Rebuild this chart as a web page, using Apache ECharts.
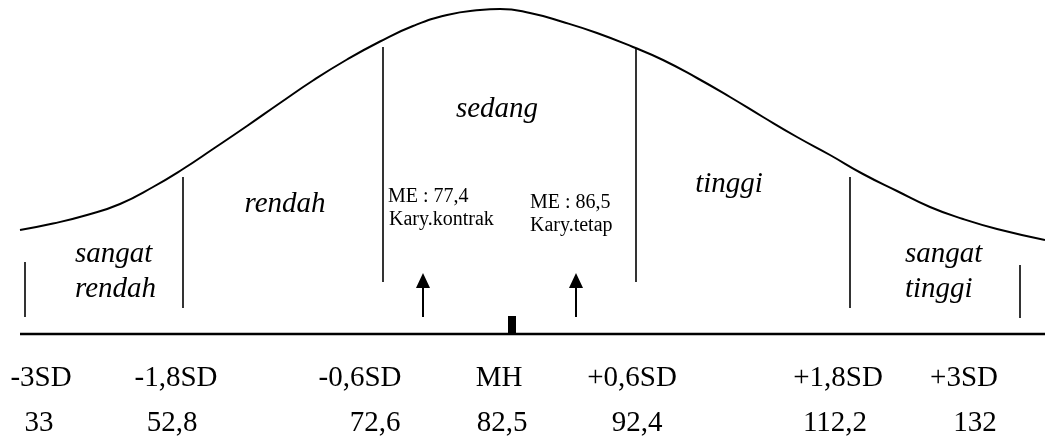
<!DOCTYPE html>
<html><head><meta charset="utf-8">
<script src="https://cdn.jsdelivr.net/npm/echarts@6/dist/echarts.min.js"></script>
<style>html,body{margin:0;padding:0;background:#fff}#c{width:1045px;height:437px}</style>
</head><body><div id="c"></div>
<script>
// ---- data ----
const sdLabels = ['-3SD', '-1,8SD', '-0,6SD', 'MH', '+0,6SD', '+1,8SD', '+3SD'];
const scoreLabels = ['33', '52,8', '72,6', '82,5', '92,4', '112,2', '132'];
const categoryLabels = ['sangat\nrendah', 'rendah', 'sedang', 'tinggi', 'sangat\ntinggi'];
const meLabels = ['ME : 77,4', 'ME : 86,5'];
const groupLabels = ['Kary.kontrak', 'Kary.tetap'];
// bell curve (schematic x, height above baseline)
const curveX = [20, 53, 87, 120, 153, 183, 213, 247, 280, 313, 347, 380, 413, 447, 480, 500, 530, 563, 597, 633, 663, 697, 730, 763, 797, 830, 863, 897, 930, 963, 997, 1045];
const curveH = [104, 110.5, 119, 130, 147, 165, 185, 208, 231, 253.5, 274.5, 292.5, 308, 319, 324, 325, 321, 312, 301, 287, 274, 256, 237, 217, 197, 179, 160, 143, 127, 115, 105, 94];

// ---- layout (schematic positions) ----
const sdX = [41, 176, 360, 499, 632, 838, 964];
const scoreX = [39, 172, 375, 502, 637, 835, 975];
const boundaries = [[25, 72, 17], [183, 157, 26], [383, 287, 52], [636, 286, 52], [850, 157, 26], [1020, 69, 16]];
const arrowX = [423, 576];
const FONT = "'Liberation Serif','Times New Roman',serif";

const texts = [];
sdLabels.forEach((t, i) => texts.push([sdX[i], -44, t, 'center', 'normal', 29, 0]));
scoreLabels.forEach((t, i) => texts.push([scoreX[i], -89, t, 'center', 'normal', 29, 0]));
const catPos = [[75, 62, 'left'], [285, 130, 'center'], [497, 225, 'center'], [729, 150, 'center'], [905, 62, 'left']];
categoryLabels.forEach((t, i) => texts.push([catPos[i][0], catPos[i][1], t, catPos[i][2], 'italic', 29, 35]));
const mePos = [[388, 137], [530, 131]];
meLabels.forEach((t, i) => texts.push([mePos[i][0], mePos[i][1], t, 'left', 'normal', 20, 0]));
const grpPos = [[389, 114], [530, 108]];
groupLabels.forEach((t, i) => texts.push([grpPos[i][0], grpPos[i][1], t, 'left', 'normal', 20, 0]));

const chart = echarts.init(document.getElementById('c'), null, {renderer: 'canvas'});
chart.setOption({
  backgroundColor: '#fff',
  animation: false,
  grid: {left: 0, right: 0, top: 0, bottom: 0},
  xAxis: {type: 'value', min: 0, max: 1045, show: false},
  yAxis: {type: 'value', min: -103, max: 334, show: false},
  series: [
    {
      type: 'line', smooth: 0.5, showSymbol: false, silent: true,
      lineStyle: {color: '#000', width: 2},
      data: curveX.map((x, i) => [x, curveH[i]])
    },
    {
      type: 'line', showSymbol: false, silent: true,
      lineStyle: {color: '#000', width: 2.5},
      data: [[20, 0], [1045, 0]]
    },
    {
      type: 'custom', silent: true,
      data: boundaries,
      renderItem: function (params, api) {
        const p1 = api.coord([api.value(0), api.value(1)]);
        const p2 = api.coord([api.value(0), api.value(2)]);
        return {type: 'line', shape: {x1: p1[0], y1: p1[1], x2: p2[0], y2: p2[1]},
          style: {stroke: '#000', lineWidth: 1.6}};
      }
    },
    {
      type: 'custom', silent: true,
      data: arrowX.map(x => [x, 17, 61]),
      renderItem: function (params, api) {
        const b = api.coord([api.value(0), api.value(1)]);
        const t = api.coord([api.value(0), api.value(2)]);
        return {type: 'group', children: [
          {type: 'line', shape: {x1: b[0], y1: b[1], x2: t[0], y2: t[1] + 12},
            style: {stroke: '#000', lineWidth: 2}},
          {type: 'polygon', shape: {points: [[t[0], t[1]], [t[0] - 7, t[1] + 15], [t[0] + 7, t[1] + 15]]},
            style: {fill: '#000'}}
        ]};
      }
    },
    {
      type: 'custom', silent: true,
      data: [[512, 18]],
      renderItem: function (params, api) {
        const top = api.coord([api.value(0), api.value(1)]);
        const bot = api.coord([api.value(0), 0]);
        return {type: 'rect', shape: {x: top[0] - 4, y: top[1], width: 8, height: bot[1] - top[1]},
          style: {fill: '#000'}};
      }
    },
    {
      type: 'custom', silent: true,
      data: texts,
      renderItem: function (params, api) {
        const d = texts[params.dataIndex];
        const p = api.coord([d[0], d[1]]);
        return {type: 'text', x: p[0], y: p[1], style: {
          text: d[2], fill: '#000', align: d[3], verticalAlign: 'middle',
          font: d[4] + ' ' + d[5] + 'px ' + FONT, lineHeight: d[6] || d[5]
        }};
      }
    }
  ]
});
</script></body></html>
